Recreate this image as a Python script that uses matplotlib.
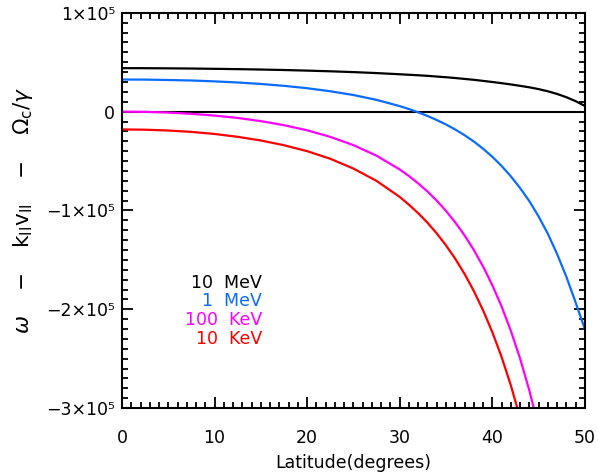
import numpy as np
import matplotlib
matplotlib.use('Agg')
import matplotlib.pyplot as plt
from matplotlib.ticker import MultipleLocator, FixedLocator

plt.rcParams['font.family'] = ['DejaVu Sans']
plt.rcParams['mathtext.fontset'] = 'dejavusans'

lat = [0, 2.5, 5, 7.5, 10, 12.5, 15, 17.5, 20, 22.5, 25, 27.5, 30, 31, 32, 33, 34, 35,
       36, 37, 38, 39, 40, 41, 42, 43, 44, 45, 46, 47, 48, 49, 50]

# curve values in units of 1e5
mev10 = [0.44, 0.4395, 0.438, 0.436, 0.433, 0.430, 0.426, 0.421, 0.415, 0.408, 0.400,
         0.390, 0.378, 0.373, 0.368, 0.362, 0.355, 0.348, 0.340, 0.331, 0.322, 0.311,
         0.300, 0.288, 0.275, 0.261, 0.246, 0.228, 0.206, 0.179, 0.146, 0.106, 0.058]
mev1 = [0.325, 0.324, 0.320, 0.315, 0.306, 0.295, 0.280, 0.261, 0.237, 0.206, 0.168,
        0.119, 0.056, 0.026, -0.007, -0.044, -0.085, -0.130, -0.181, -0.238, -0.302,
        -0.375, -0.456, -0.549, -0.654, -0.773, -0.905, -1.06, -1.235, -1.44, -1.67,
        -1.93, -2.20]
kev100 = [0.0, -0.0024, -0.0095, -0.022, -0.040, -0.064, -0.096, -0.137, -0.189, -0.255,
          -0.339, -0.446, -0.585, -0.652, -0.726, -0.808, -0.901, -1.004, -1.121, -1.251,
          -1.399, -1.566, -1.755, -1.97, -2.216, -2.497, -2.820, -3.192]
kev10 = [-0.18, -0.183, -0.191, -0.205, -0.226, -0.255, -0.292, -0.340, -0.400, -0.477,
         -0.576, -0.701, -0.863, -0.942, -1.028, -1.124, -1.232, -1.353, -1.489, -1.641,
         -1.814, -2.009, -2.230, -2.481, -2.768, -3.096]

labels = ['10  MeV', '1  MeV', '100  KeV', '10  KeV']
colors = ['black', '#0a6cff', '#ff00ff', '#ff0000']
series = [mev10, mev1, kev100, kev10]

fig = plt.figure(figsize=(5.98, 4.74), dpi=100)
ax = fig.add_axes([0.204, 0.139, 0.774, 0.834])

ax.axhline(0, color='black', lw=1.5, zorder=1)
for vals, c in zip(series, colors):
    ax.plot(lat[:len(vals)], np.array(vals) * 1e5, color=c, lw=1.6, zorder=2)

ax.set_xlim(0, 50)
ax.set_ylim(-3e5, 1e5)

ax.xaxis.set_major_locator(MultipleLocator(10))
ax.xaxis.set_minor_locator(MultipleLocator(1))
ax.yaxis.set_major_locator(FixedLocator([-3e5, -2e5, -1e5, 0, 1e5]))
ax.yaxis.set_minor_locator(MultipleLocator(1e4))
ax.set_yticklabels(['\u22123\u00d710\u2075', '\u22122\u00d710\u2075', '\u22121\u00d710\u2075',
                    '0', '1\u00d710\u2075'])

ax.tick_params(which='both', direction='in', top=True, right=True, width=1.3,
               labelsize=12.5)
ax.tick_params(axis='x', pad=15)
ax.tick_params(axis='y', pad=5)
ax.tick_params(which='major', length=8)
ax.tick_params(which='minor', length=4)
for s in ax.spines.values():
    s.set_linewidth(1.5)

ax.set_xlabel('Latitude(degrees)', fontsize=12.5, labelpad=5)
ax.set_ylabel(r'$\omega\ \ \ -\ \ \ \mathrm{k_{II}v_{II}}\ \ \ -\ \ \ \Omega_\mathrm{c}/\gamma$',
              fontsize=15.5, labelpad=8)

# energy labels
ys = [-1.73e5, -1.92e5, -2.11e5, -2.30e5]
for t, c, y in zip(labels, colors, ys):
    ax.text(15.1, y, t, color=c, fontsize=12.5, ha='right', va='center')

fig.savefig('out.png', dpi=100)
